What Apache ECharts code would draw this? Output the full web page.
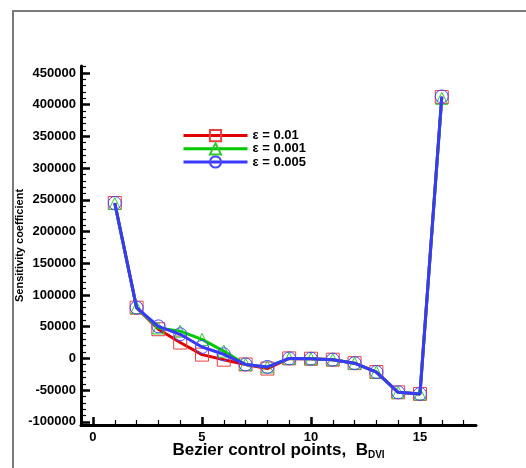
<!DOCTYPE html>
<html>
<head>
<meta charset="utf-8">
<script src="https://cdn.jsdelivr.net/npm/echarts@6/dist/echarts.min.js"></script>
<style>html,body{margin:0;padding:0;background:#fff}#c{width:526px;height:468px}</style>
</head>
<body>
<div id="c"></div>
<script>
const controlPoints = [1,2,3,4,5,6,7,8,9,10,11,12,13,14,15,16];
const eps001 = [245000,80000,46000,25000,6000,-2000,-9500,-16000,0,-500,-2000,-7500,-21500,-53500,-56000,412000];
const eps0001 = [244000,80000,48000,43000,30000,11500,-9500,-13500,0,-500,-2000,-7500,-21500,-53500,-56000,410000];
const eps0005 = [245000,80000,50500,38000,18000,6500,-9500,-13500,0,-500,-2000,-7500,-21500,-53500,-56000,413000];
const seriesNames = ['\u03b5 = 0.01', '\u03b5 = 0.001', '\u03b5 = 0.005'];
const xMajorTicks = [0,5,10,15];
const xMinorTicks = [0,1,2,3,4,5,6,7,8,9,10,11,12,13,14,15,16,17];
const yMajorTicks = [-100000,-50000,0,50000,100000,150000,200000,250000,300000,350000,400000,450000];
const yMinorTicks = [];
for (let v = -100000; v <= 460000; v += 10000) yMinorTicks.push(v);

const font = 'Liberation Sans, Arial, sans-serif';
const xr = {min:-0.55, max:17.57};
const yr = {min:-105000, max:461000};

function pairs(vals){ return controlPoints.map((x,i)=>[x, vals[i]]); }

const chart = echarts.init(document.getElementById('c'));
const lineColors = ['#e00000', '#00c800', '#3838ff'];
const markColors = ['#e84040', '#30c830', '#4848ff'];
const symbols = ['rect', 'triangle', 'circle'];
const data = [eps001, eps0001, eps0005];

chart.setOption({
  animation: false,
  backgroundColor: '#fff',
  graphic: [{
    type: 'rect', shape: {x: 13, y: 11, width: 540, height: 480},
    style: {fill: 'none', stroke: '#7a7a7a', lineWidth: 2}, silent: true, z: -1
  }],
  grid: {left: 81, right: 50, top: 66, bottom: 43, containLabel: false, outerBoundsMode: 'none'},
  legend: {
    orient: 'vertical', left: 182, top: 129, padding: 0, itemWidth: 64, itemHeight: 14, itemGap: 0,
    data: seriesNames,
    lineStyle: {width: 3},
    textStyle: {fontFamily: font, fontWeight: 'bold', fontSize: 13, color: '#000'}
  },
  xAxis: [{
    type: 'value', min: xr.min, max: xr.max,
    axisLine: {show: true, onZero: false, lineStyle: {color: '#000', width: 3}},
    axisTick: {show: true, inside: true, length: 8, customValues: xMajorTicks, lineStyle: {color: '#000', width: 2.5}},
    axisLabel: {show: true, customValues: xMajorTicks, margin: 6, fontFamily: font, fontWeight: 'bold', fontSize: 13, color: '#000',
      formatter: v => String(v)},
    splitLine: {show: false},
    name: 'Bezier control points,  {b|B}{s|DVI}',
    nameLocation: 'middle', nameGap: 15, nameMoveOverlap: false,
    nameTextStyle: {fontFamily: font, fontWeight: 'bold', fontSize: 17, color: '#000',
      rich: {b: {fontFamily: font, fontWeight: 'bold', fontSize: 17, color: '#000'},
             s: {fontFamily: font, fontWeight: 'bold', fontSize: 10, color: '#000', padding: [10,0,0,0]}}}
  }, {
    type: 'value', min: xr.min, max: xr.max, position: 'bottom',
    axisLine: {show: false, onZero: false},
    axisTick: {show: true, inside: true, length: 5, customValues: xMinorTicks, lineStyle: {color: '#000', width: 1.2}},
    axisLabel: {show: false}, splitLine: {show: false}
  }],
  yAxis: [{
    type: 'value', min: yr.min, max: yr.max,
    axisLine: {show: true, onZero: false, lineStyle: {color: '#000', width: 3}},
    axisTick: {show: true, inside: true, length: 9, customValues: yMajorTicks, lineStyle: {color: '#000', width: 2.5}},
    axisLabel: {show: true, customValues: yMajorTicks, margin: 5, fontFamily: font, fontWeight: 'bold', fontSize: 13, color: '#000',
      formatter: v => String(v)},
    splitLine: {show: false},
    name: 'Sensitivity coefficient', nameLocation: 'middle', nameGap: 56, nameRotate: 90, nameMoveOverlap: false,
    nameTextStyle: {fontFamily: font, fontWeight: 'bold', fontSize: 11, color: '#000'}
  }, {
    type: 'value', min: yr.min, max: yr.max, position: 'left', offset: 0,
    axisLine: {show: false, onZero: false},
    axisTick: {show: true, inside: true, length: 5, customValues: yMinorTicks, lineStyle: {color: '#000', width: 1.2}},
    axisLabel: {show: false}, splitLine: {show: false}
  }],
  series: data.map((d, i) => ({
    name: seriesNames[i], type: 'line', data: pairs(d),
    xAxisIndex: 0, yAxisIndex: 0,
    symbol: symbols[i], symbolSize: i === 1 ? 12 : 13,
    lineStyle: {color: lineColors[i], width: 3},
    itemStyle: {color: 'rgba(255,255,255,0)', borderColor: markColors[i], borderWidth: 1},
    z: 2 + i
  }))
});
</script>
</body>
</html>
